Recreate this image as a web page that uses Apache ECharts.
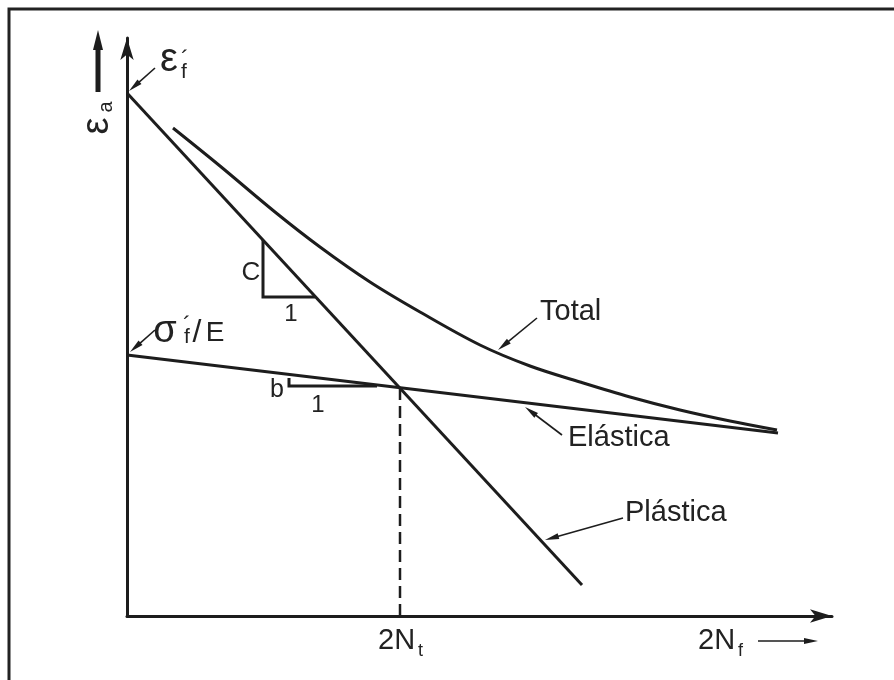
<!DOCTYPE html>
<html><head><meta charset="utf-8">
<script src="https://cdn.jsdelivr.net/npm/echarts@6/dist/echarts.min.js"></script>
<style>html,body{margin:0;padding:0;background:#fff}#c{width:894px;height:680px}</style>
</head><body><div id="c"></div>
<script>
// ---- data (schematic units, log-log strain-life diagram) ----
const plasticX = [0, 455];
const plasticY = [523, 31];
const elasticX = [0, 651];
const elasticY = [261, 183];
const totalX = [46, 93, 148, 193, 243, 293, 353, 403, 453, 503, 553, 603, 650];
const totalY = [488, 450, 404, 369, 334, 304, 271, 250, 234, 219, 206, 195, 186];
const transitionX = 273;      // 2N_t
const transitionY = 228;
const xMax = 705, yMax = 578;

const INK = '#1d1d1d';
const FONT = '"Liberation Sans", Arial, sans-serif';

function pairs(xs, ys){ return xs.map((x,i)=>[x, ys[i]]); }

const chart = echarts.init(document.getElementById('c'), null, {renderer:'canvas'});
const axisCommon = {
  type:'value', min:0, splitLine:{show:false}, axisTick:{show:false}, axisLabel:{show:false},
  axisLine:{show:true, symbol:['none','arrow'], symbolSize:[10,22], lineStyle:{color:INK, width:3}}
};
const lineStyle = {color:INK, width:3};
chart.setOption({
  animation:false,
  backgroundColor:'#fff',
  grid:{left:127, right:62, top:38, bottom:64},
  xAxis:Object.assign({}, axisCommon, {max:xMax}),
  yAxis:Object.assign({}, axisCommon, {max:yMax}),
  series:[
    {type:'line', name:'Plástica', data:pairs(plasticX, plasticY), showSymbol:false, symbol:'none', lineStyle, z:3},
    {type:'line', name:'Elástica', data:pairs(elasticX, elasticY), showSymbol:false, symbol:'none', lineStyle, z:3},
    {type:'line', name:'Total', data:pairs(totalX, totalY), smooth:0.35, showSymbol:false, symbol:'none', lineStyle, z:3},
    {type:'line', name:'2Nt', data:[[transitionX, transitionY],[transitionX, 0]], showSymbol:false, symbol:'none',
      lineStyle:{color:INK, width:2.5, type:[12,6]}, z:2}
  ]
});

// ---- annotations (anchors in data units) ----
const arrows = [
  {from:[28,548], to:[2,525]},     // eps_f'
  {from:[28,286], to:[3,264]},     // sigma_f'/E
  {from:[410,298], to:[371,266]},  // Total
  {from:[435,181], to:[398,209]},  // Elastica
  {from:[496,98], to:[418,76]},    // Plastica
  {from:[631,-25], to:[691,-25]},  // 2N_f ->
];
const texts = [
  {t:'Total', p:[413,304], s:29, a:'left'},
  {t:'Elástica', p:[441,178], s:29, a:'left'},
  {t:'Plástica', p:[498,103], s:29, a:'left'},
  {t:'C', p:[124,343], s:26, a:'center'},
  {t:'1', p:[164,302], s:24, a:'center'},
  {t:'b', p:[150,226], s:25, a:'center'},
  {t:'1', p:[191,211], s:24, a:'center'},
  {t:'2N', p:[251,-25], s:29, a:'left'},
  {t:'t', p:[291,-35], s:18, a:'left'},
  {t:'2N', p:[571,-25], s:29, a:'left'},
  {t:'f', p:[611,-35], s:18, a:'left'},
  {t:'ε', p:[42,556], s:40, a:'center'},
  {t:'f', p:[54,544], s:21, a:'left'},
  {t:'´', p:[54,556], s:24, a:'left'},
  {t:'σ', p:[38,284], s:38, a:'center'},
  {t:'´', p:[56,290], s:24, a:'left'},
  {t:'f', p:[57,279], s:21, a:'left'},
  {t:'/', p:[70,283], s:32, a:'center'},
  {t:'E', p:[88,283], s:28, a:'center'},
  {t:'ε', p:[-29,490], s:38, a:'center', r:Math.PI/2},
  {t:'a', p:[-21,509], s:20, a:'center', r:Math.PI/2},
];
const slopeMarks = [
  [[136,376],[136,319],[188,319]],   // C : 1
  [[162,238],[162,230],[250,230]],   // b : 1
];
const epsArrow = {from:[-29,524], to:[-29,586]};

function px(p){ return chart.convertToPixel({gridIndex:0}, p); }
function arrowEls(a, w, headLen, headW){
  const p1 = px(a.from), p2 = px(a.to);
  const dx = p2[0]-p1[0], dy = p2[1]-p1[1], L = Math.hypot(dx,dy);
  const ux = dx/L, uy = dy/L, nx = -uy, ny = ux;
  const bx = p2[0]-ux*headLen, by = p2[1]-uy*headLen;
  return [
    {type:'line', shape:{x1:p1[0], y1:p1[1], x2:bx+ux*2, y2:by+uy*2}, style:{stroke:INK, lineWidth:w}, z:10, silent:true},
    {type:'polygon', shape:{points:[[p2[0],p2[1]],[bx+nx*headW/2, by+ny*headW/2],[bx-nx*headW/2, by-ny*headW/2]]},
      style:{fill:INK}, z:10, silent:true}
  ];
}
const els = [];
els.push({type:'rect', shape:{x:9, y:9, width:900, height:700}, style:{fill:'none', stroke:'#222', lineWidth:3}, z:1, silent:true});
arrows.forEach(a => els.push(...arrowEls(a, 1.6, 14, 6)));
els.push(...arrowEls(epsArrow, 5, 20, 10));
slopeMarks.forEach(m => {
  els.push({type:'polyline', shape:{points:m.map(px)}, style:{stroke:INK, lineWidth:3, fill:'none'}, z:10, silent:true});
});
texts.forEach(o => {
  const p = px(o.p);
  els.push({type:'text', x:p[0], y:p[1], rotation:o.r||0, z:11, silent:true,
    style:{text:o.t, fontSize:o.s, fontFamily:FONT, fill:'#222', align:o.a, verticalAlign:'middle'}});
});
chart.setOption({graphic:{elements:els}});
</script></body></html>
